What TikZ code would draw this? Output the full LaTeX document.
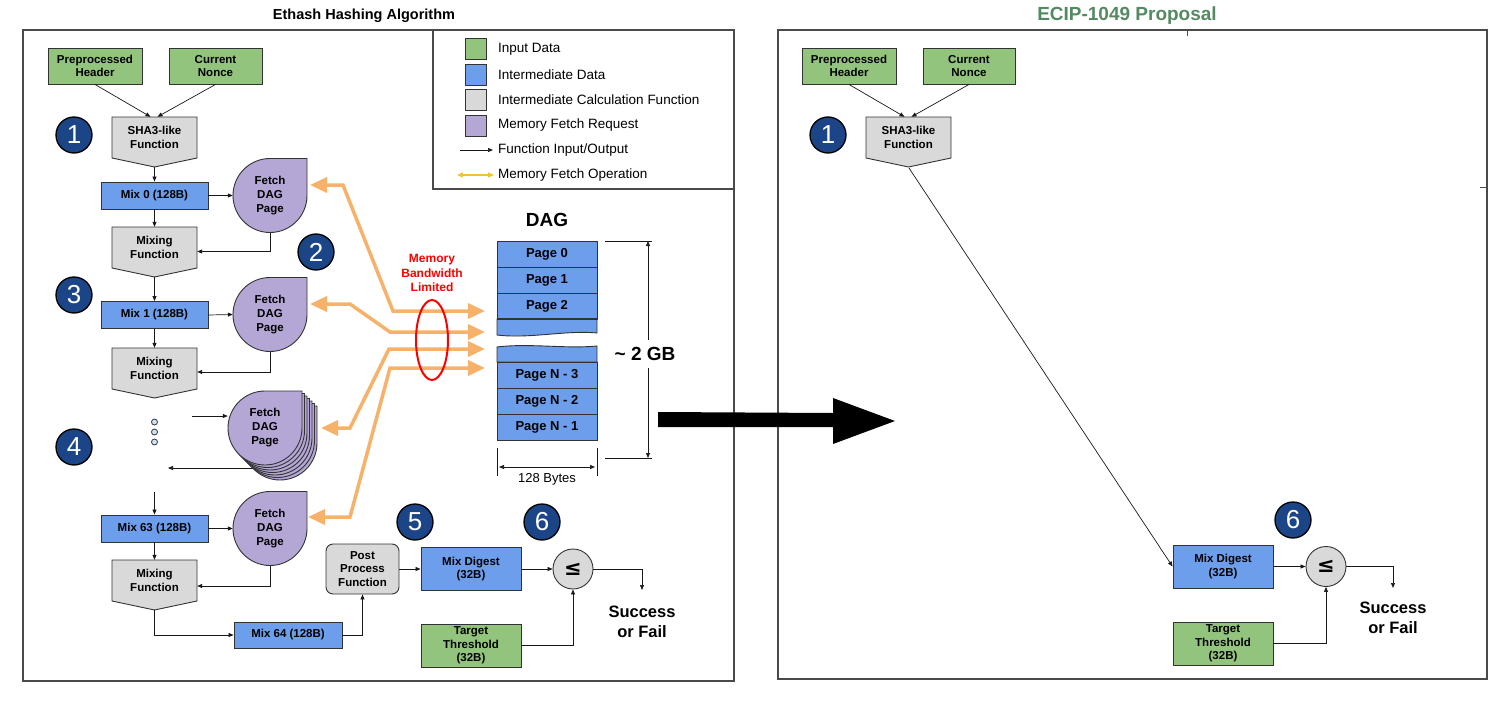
\documentclass[tikz,border=0pt]{standalone}
\usepackage{fontspec}
\setmainfont{Liberation Sans}
\newfontfamily\dejavu{DejaVu Sans}
\usetikzlibrary{arrows.meta,calc,shapes.geometric}
\definecolor{cgreen}{HTML}{93C47D}
\definecolor{cblue}{HTML}{6D9EEB}
\definecolor{cgray}{HTML}{D9D9D9}
\definecolor{cpurple}{HTML}{B4A7D6}
\definecolor{corange}{HTML}{F6B26B}
\definecolor{cnavy}{HTML}{1C4587}
\definecolor{cyellow}{HTML}{F1C232}
\definecolor{ctitle}{HTML}{548A62}
\definecolor{cline}{HTML}{333333}
\definecolor{cframe}{HTML}{4A4A4A}
\definecolor{cdot}{HTML}{CFE2F3}
\newcommand\fsz[2]{\fontsize{#1}{#2}\selectfont}
\newcommand\pentashape[2]{\draw[fnshape] (#1-42.5,#2) -- (#1+42.5,#2) -- (#1+42.5,#2-41) -- (#1,#2-50) -- (#1-42.5,#2-41) -- cycle;}
\newcommand\teardrop[2]{\draw[fetchst] (#1+37,#2) arc[start angle=0,end angle=-270,radius=37pt] -- (#1+37,#2+37) -- cycle;}
\begin{document}
\begin{tikzpicture}[x=1pt,y=1pt,
  lbl/.style={font=\bfseries\fsz{11.5}{13.5}, align=center, inner sep=0pt},
  gbox/.style={lbl, draw=cline, line width=0.9pt, fill=cgreen},
  bbox/.style={lbl, draw=cline, line width=0.9pt, fill=cblue},
  fnbox/.style={lbl, draw=cline, line width=0.9pt, fill=cgray},
  fnshape/.style={draw=cline, line width=0.9pt, fill=cgray},
  fetchst/.style={draw=cline, line width=0.9pt, fill=cpurple},
  fetcht/.style={lbl, circle, minimum size=74pt, fsz={11.5}{14}},
  fsz/.style 2 args={font=\bfseries\fontsize{#1}{#2}\selectfont},
  mixbox/.style={bbox, minimum width=107pt, minimum height=27pt},
  fnlbl/.style={lbl, minimum width=85pt, minimum height=41pt},
  page/.style={draw=cline, line width=0.9pt, fill=cblue, minimum width=100pt, minimum height=26pt, inner sep=0pt, font=\bfseries\fsz{13}{15}},
  pagefill/.style={draw=cline, line width=0.9pt, fill=cblue},
  arr/.style={-{Triangle[length=5pt,width=4pt]}, line width=0.7pt, draw=black!90},
  oarr/.style={{Triangle[length=17pt,width=15pt]}-{Triangle[length=17pt,width=15pt]}, line width=3.5pt, draw=corange},
  numc/.style={circle, fill=cnavy, draw=black, line width=1.3pt, minimum size=36pt, inner sep=0pt, text=white, font=\fsz{26}{26}},
  leqst/.style={circle, fill=cgray, draw=cline, line width=0.9pt, minimum size=40pt, inner sep=0pt, font=\dejavu\bfseries\fsz{21}{21}},
  sfst/.style={align=center, inner sep=0pt, font=\bfseries\fsz{16.5}{20}},
  frame/.style={draw=cframe, line width=1.2pt},
  leg/.style={draw=cline, line width=0.9pt, minimum size=21pt, inner sep=0pt},
  legt/.style={anchor=west, inner sep=0pt, font=\fsz{13.5}{16}},
  dotst/.style={circle, fill=cdot, draw=cline, line width=0.8pt, minimum size=6pt, inner sep=0pt},
  dim/.style={line width=0.7pt, draw=black!90}
]
\useasboundingbox (0,0) rectangle (1500,-709);

% ---------- titles and frames ----------
\node[fsz={14.5}{17}] (t1) at (364,-16) {Ethash Hashing Algorithm};
\node[fsz={19}{21}, text=ctitle] (t2) at (1127,-16) {ECIP-1049 Proposal};
\draw[frame] (23,-30) rectangle (734,-681);
\draw[frame] (433,-30) rectangle (734,-189);
\draw[frame] (778,-30) rectangle (1487,-679);
\draw[frame, line width=0.6pt] (1187,-30) -- (1187,-36);
\draw[frame, line width=0.6pt] (1480,-187) -- (1487,-187);

% ---------- legend ----------
\node[leg, fill=cgreen] (lg1) at (475.5,-49) {};
\node[leg, fill=cblue] (lg2) at (475.5,-74.5) {};
\node[leg, fill=cgray] (lg3) at (475.5,-99.5) {};
\node[leg, fill=cpurple] (lg4) at (475.5,-125.5) {};
\node[legt] (lt1) at (498,-49) {Input Data};
\node[legt] (lt2) at (498,-74.5) {Intermediate Data};
\node[legt] (lt3) at (498,-99.5) {Intermediate Calculation Function};
\node[legt] (lt4) at (498,-125.5) {Memory Fetch Request};
\coordinate (la1) at (460,-150); \coordinate (la2) at (493,-150);
\draw[arr] (la1) -- (la2);
\node[legt] (lt5) at (498,-150) {Function Input/Output};
\coordinate (lb1) at (457,-175); \coordinate (lb2) at (494,-175);
\draw[cyellow, line width=1.3pt, {Triangle[length=6pt,width=5pt]}-{Triangle[length=6pt,width=5pt]}] (lb1) -- (lb2);
\node[legt] (lt6) at (498,-175) {Memory Fetch Operation};

% ---------- left flow ----------
\node[gbox, minimum width=94pt, minimum height=36pt] (ph) at (95,-66) {Preprocessed\\Header};
\node[gbox, minimum width=93pt, minimum height=36pt] (cn) at (215.5,-66) {Current\\Nonce};
\pentashape{154.5}{-117}
\node[fnlbl] (sha) at (154.5,-137.5) {SHA3-like\\Function};
\coordinate (shatip) at (154.5,-167);
\node[numc] (n1) at (74,-135) {1};
\draw[arr] (ph.south) -- ([xshift=-4pt]sha.north);
\draw[arr] (cn.south) -- ([xshift=3pt]sha.north);

\node[mixbox] (mix0) at (154.5,-195.5) {Mix 0 (128B)};
\draw[arr] (shatip) -- (mix0.north);
\teardrop{270}{-195.5}
\node[fetcht] (f0) at (270,-195.5) {Fetch\\DAG\\Page};
\draw[arr] (mix0.east) -- (f0.west);

\pentashape{154.5}{-227}
\node[fnlbl] (mf1) at (154.5,-247.5) {Mixing\\Function};
\coordinate (mf1tip) at (154.5,-277);
\draw[arr] (mix0.south) -- (mf1.north);
\draw[arr] (f0.south) |- ([yshift=-4pt]mf1.east);
\node[numc] (n2) at (316,-252) {2};
\node[numc] (n3) at (74,-295) {3};

\node[mixbox] (mix1) at (154.5,-315) {Mix 1 (128B)};
\draw[arr] (mf1tip) -- (mix1.north);
\teardrop{270}{-314.5}
\node[fetcht] (f1) at (270,-314.5) {Fetch\\DAG\\Page};
\draw[arr] (mix1.east) -- (f1.west);

\pentashape{154.5}{-348}
\node[fnlbl] (mf2) at (154.5,-368.5) {Mixing\\Function};
\coordinate (mf2tip) at (154.5,-398);
\draw[arr] (mix1.south) -- (mf2.north);
\draw[arr] (f1.south) |- ([yshift=-3.5pt]mf2.east);

\node[dotst] (dota) at (154.5,-422) {};
\node[dotst] (dotb) at (154.5,-432) {};
\node[dotst] (dotc) at (154.5,-442) {};
\node[numc] (n4) at (74,-447) {4};

\coordinate (sin) at (192,-416);
\coordinate (soutA) at (255,-468);
\coordinate (soutB) at (168,-468);
\draw[arr] (soutA) -- (soutB);
\foreach \i in {6,5,4,3,2,1,0} {\teardrop{265+2.5*\i}{-428-2.5*\i}}
\node[fetcht] (f2) at (265,-428) {Fetch\\DAG\\Page};
\draw[arr] (sin) -- (sin -| f2.west);

\coordinate (m63in) at (154.5,-492);
\node[mixbox] (mix63) at (154.5,-528.5) {Mix 63 (128B)};
\draw[arr] (m63in) -- (mix63.north);
\teardrop{270}{-528.5}
\node[fetcht] (f3) at (270,-528.5) {Fetch\\DAG\\Page};
\draw[arr] (mix63.east) -- (f3.west);

\pentashape{154.5}{-560}
\node[fnlbl] (mf3) at (154.5,-580.5) {Mixing\\Function};
\coordinate (mf3tip) at (154.5,-610);
\draw[arr] (mix63.south) -- (mf3.north);
\draw[arr] (f3.south) |- ([yshift=-5.5pt]mf3.east);

\node[bbox, minimum width=108pt, minimum height=26pt] (mix64) at (288,-635) {Mix 64 (128B)};
\draw[arr] (mf3tip) |- (mix64.west);
\node[fnbox, rounded corners=7pt, minimum width=73pt, minimum height=50pt] (post) at (362.5,-569) {Post\\Process\\Function};
\draw[arr] (mix64.east) -| (post.south);

\node[bbox, minimum width=100pt, minimum height=43pt] (md) at (471,-569) {Mix Digest\\(32B)};
\draw[arr] (post.east) -- (md.west);
\node[numc] (n5) at (415,-522) {5};
\node[leqst] (leq) at (573,-569) {≤};
\node[numc] (n6) at (542,-522) {6};
\draw[arr] (md.east) -- (leq.west);
\coordinate (sfin) at (642,-590);
\draw[arr] (leq.east) -| (sfin);
\node[sfst] (sf) at (642,-622) {Success\\or Fail};
\node[gbox, minimum width=100pt, minimum height=43pt] (tt) at (471,-645.5) {Target\\Threshold\\(32B)};
\draw[arr] (tt.east) -| (leq.south);

% ---------- DAG ----------
\node[fsz={19}{22}] (dagt) at (547,-220) {DAG};
\node[page] (p0) at (547,-254) {Page 0};
\node[page] (p1) at (547,-280) {Page 1};
\node[page] (p2) at (547,-306) {Page 2};
\draw[pagefill] (497,-319) -- (597,-319) -- (597,-333) .. controls (565,-330) and (530,-339) .. (497,-335) -- cycle;
\draw[line width=1.7pt, cline] (497,-319) -- (597,-319);
\draw[pagefill] (497,-347) .. controls (530,-343) and (565,-349) .. (597,-346) -- (597,-362) -- (497,-362) -- cycle;
\node[page] (pn3) at (547,-375) {Page N - 3};
\node[page] (pn2) at (547,-401) {Page N - 2};
\node[page] (pn1) at (547,-427) {Page N - 1};

\coordinate (dt1) at (605,-241); \coordinate (dt2) at (652,-241);
\coordinate (db1) at (605,-458); \coordinate (db2) at (652,-458);
\draw[dim] (dt1) -- (dt2);
\draw[dim] (db1) -- (db2);
\node[fsz={19}{22}] (gb) at (645,-354) {\textasciitilde{} 2 GB};
\coordinate (dv1) at (648,-241); \coordinate (dv2) at (648,-340);
\coordinate (dv3) at (648,-368); \coordinate (dv4) at (648,-458);
\draw[arr] (dv2) -- (dv1);
\draw[arr] (dv3) -- (dv4);

\coordinate (bt1) at (497,-448); \coordinate (bt2) at (497,-476);
\coordinate (bt3) at (597,-448); \coordinate (bt4) at (597,-476);
\draw[dim] (bt1) -- (bt2);
\draw[dim] (bt3) -- (bt4);
\coordinate (bw1) at (499,-467); \coordinate (bw2) at (595,-467);
\draw[dim, {Triangle[length=5pt,width=4pt]}-{Triangle[length=5pt,width=4pt]}] (bw1) -- (bw2);
\node[font=\fsz{13}{15}] (bytes) at (547,-479) {128 Bytes};

% ---------- memory fetch operations ----------
\coordinate (oa1) at (310,-185); \coordinate (oa2) at (343,-185);
\coordinate (oa3) at (393,-311); \coordinate (oa4) at (485,-311);
\draw[oarr] (oa1) -- (oa2) -- (oa3) -- (oa4);
\coordinate (ob1) at (310,-304); \coordinate (ob2) at (350,-304);
\coordinate (ob3) at (390,-332); \coordinate (ob4) at (485,-332);
\draw[oarr] (ob1) -- (ob2) -- (ob3) -- (ob4);
\coordinate (oc1) at (321,-428); \coordinate (oc2) at (350,-428);
\coordinate (oc3) at (389,-349); \coordinate (oc4) at (485,-349);
\draw[oarr] (oc1) -- (oc2) -- (oc3) -- (oc4);
\coordinate (od1) at (308,-517); \coordinate (od2) at (350,-517);
\coordinate (od3) at (390,-368); \coordinate (od4) at (485,-368);
\draw[oarr] (od1) -- (od2) -- (od3) -- (od4);

\node[draw=red, line width=2pt, ellipse, minimum width=32pt, minimum height=80pt, inner sep=0pt] (ell) at (432,-340) {};
\node[align=center, text=red, inner sep=0pt, font=\bfseries\fsz{12}{14.5}] (mbl) at (432,-273) {Memory\\Bandwidth\\Limited};

% ---------- big arrow ----------
\fill[black] (658,-412) -- (833,-413) -- (833,-398) -- (895,-421) -- (833,-444) -- (833,-427) -- (658,-427) -- cycle;

% ---------- right flow ----------
\node[gbox, minimum width=94pt, minimum height=36pt] (ph2) at (849,-66) {Preprocessed\\Header};
\node[gbox, minimum width=92pt, minimum height=36pt] (cn2) at (969,-66) {Current\\Nonce};
\pentashape{908.5}{-117}
\node[fnlbl] (sha2) at (908.5,-137.5) {SHA3-like\\Function};
\coordinate (sha2tip) at (909,-168);
\node[numc] (n1r) at (828,-135) {1};
\draw[arr] (ph2.south) -- ([xshift=-4pt]sha2.north);
\draw[arr] (cn2.south) -- ([xshift=3pt]sha2.north);

\node[bbox, minimum width=100pt, minimum height=43pt] (md2) at (1223,-566.5) {Mix Digest\\(32B)};
\draw[arr] (sha2tip) -- (md2.west);
\node[leqst] (leq2) at (1326,-566.5) {≤};
\node[numc] (n6r) at (1293,-520) {6};
\draw[arr] (md2.east) -- (leq2.west);
\coordinate (sfin2) at (1393,-588);
\draw[arr] (leq2.east) -| (sfin2);
\node[sfst] (sf2) at (1393,-618) {Success\\or Fail};
\node[gbox, minimum width=100pt, minimum height=43pt] (tt2) at (1223,-643.5) {Target\\Threshold\\(32B)};
\draw[arr] (tt2.east) -| (leq2.south);
\end{tikzpicture}
\end{document}
